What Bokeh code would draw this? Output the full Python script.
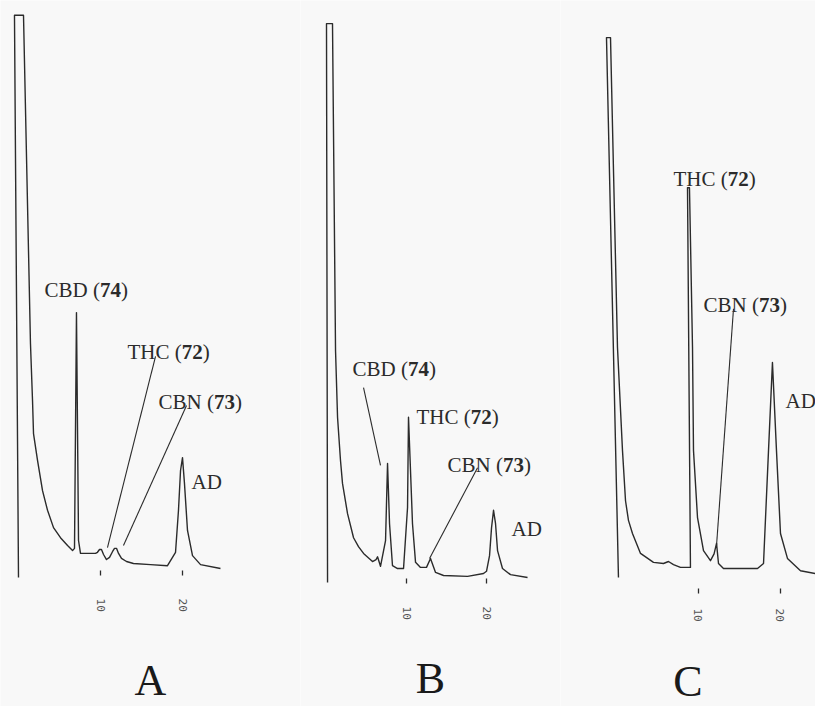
from bokeh.plotting import figure
from bokeh.layouts import row
from bokeh.models import Range1d, LinearAxis, FixedTicker, ColumnDataSource
from bokeh.core.properties import value
from bokeh.embed import file_html
from bokeh.resources import INLINE

# ---------------- data (retention time in min, detector response in arbitrary units) ----------------
tick_vals = [10, 20]
tick_labels = ["10", "20"]
panel_letters = ["A", "B", "C"]

# Panel A trace
a_time = [0.00, -0.49, 0.61, 1.46, 1.71, 1.83, 2.32, 2.93, 3.54, 4.27, 5.12, 5.98, 6.59, 6.83, 7.07,
          7.32, 7.56, 8.17, 9.39, 9.63, 9.88, 10.12, 10.37, 10.73, 11.10, 11.46, 11.71, 11.95,
          12.20, 12.56, 13.17, 14.02, 16.10, 18.17, 19.15, 19.51, 19.76, 20.00, 20.24, 20.61,
          21.22, 22.20, 24.63]
a_resp = [-1.6, 98.8, 98.8, 40.2, 30.0, 24.1, 19.3, 13.9, 10.4, 7.3, 5.5, 4.1, 3.2, 3.6, 45.7,
          5.0, 2.7, 2.7, 2.7, 2.9, 3.4, 3.4, 2.5, 1.6, 2.0, 3.0, 3.6, 3.6,
          2.7, 1.8, 1.25, 0.9, 0.7, 0.5, 2.9, 10.4, 17.5, 19.8, 15.2, 6.8,
          2.3, 0.7, 0.0]

# Panel B trace
b_time = [0.13, 0.00, 0.75, 1.13, 1.38, 1.75, 2.00, 2.63, 3.38, 4.00, 4.63, 5.75, 6.20, 6.38, 6.75,
          7.38, 7.63, 7.88, 8.25, 8.88, 9.63, 10.13, 10.25, 10.75, 11.13, 11.75, 12.50, 13.00,
          13.63, 14.63, 17.63, 19.63, 20.00, 20.38, 20.63, 20.88, 21.13, 21.38, 22.00, 23.00, 25.13]
b_resp = [-2.5, 97.3, 97.3, 38.9, 27.0, 19.3, 15.2, 9.8, 5.5, 3.9, 2.7, 1.25, 1.6, 2.1, 0.4,
          5.0, 18.75, 8.0, 0.5, 0.0, 0.0, 10.9, 27.0, 8.0, 1.1, 0.2, 0.2, 1.8,
          -0.7, -1.25, -1.4, -0.9, -0.5, 2.3, 7.3, 10.4, 8.0, 3.2, 0.0, -1.1, -1.6]

# Panel C trace
c_time = [0.24, -1.22, -0.73, 0.12, 0.73, 1.10, 1.46, 1.95, 2.93, 4.51, 5.73, 6.34, 6.95, 7.80, 9.02,
          8.66, 8.90, 9.27, 9.39, 9.88, 10.61, 11.46, 11.90, 12.20, 12.44, 13.05, 17.20, 17.93,
          18.54, 19.02, 19.51, 20.00, 20.85, 22.44, 24.27]
c_resp = [-1.6, 94.8, 94.8, 39.5, 21.1, 12.1, 8.6, 6.25, 2.7, 1.1, 0.9, 1.25, 0.7, 0.2, 0.2,
          68.0, 68.0, 39.5, 21.1, 9.1, 3.2, 1.4, 2.6, 4.5, 0.9, 0.0, 0.0, 0.9,
          21.1, 36.8, 21.1, 6.25, 1.8, -0.4, -0.9]

# Peak labels: name, compound number (bold), text position (time, response)
a_lab_name = ["CBD (", "THC (", "CBN ("]
a_lab_num = ["74", "72", "73"]
a_lab_t = [3.17, 13.29, 17.07]
a_lab_v = [49.8, 38.6, 29.8]
a_ad = (21.10, 15.5)
a_lead_t0 = [16.71, 20.49]
a_lead_v0 = [37.9, 29.1]
a_lead_t1 = [10.85, 12.80]
a_lead_v1 = [3.75, 4.1]

b_lab_name = ["CBD (", "THC (", "CBN ("]
b_lab_num = ["74", "72", "73"]
b_lab_t = [3.25, 11.25, 15.13]
b_lab_v = [35.7, 27.0, 18.4]
b_ad = (23.13, 7.0)
b_lead_t0 = [4.63, 18.88]
b_lead_v0 = [32.3, 18.0]
b_lead_t1 = [6.75, 12.88]
b_lead_v1 = [18.4, 1.8]

c_lab_name = ["THC (", "CBN ("]
c_lab_num = ["72", "73"]
c_lab_t = [6.95, 10.61]
c_lab_v = [69.5, 47.0]
c_ad = (20.61, 30.0)
c_lead_t0 = [14.27]
c_lead_v0 = [46.4]
c_lead_t1 = [12.20]
c_lead_v1 = [4.1]

# ---------------- styling ----------------
BG = "#f8f8f8"
INK = "#2b2b2b"
SERIF = "Liberation Serif"
FS = 21  # px
# Times advance widths (em)
ADV = {"C": 0.667, "B": 0.667, "D": 0.722, "T": 0.611, "H": 0.722, "N": 0.722,
       " ": 0.25, "(": 0.333, ")": 0.333, "7": 0.5, "2": 0.5, "3": 0.5, "4": 0.5}


def w(s):
    return sum(ADV[ch] for ch in s) * FS


def panel(width, xr, yr, trace_t, trace_v, names, nums, lt, lv, ad, l0t, l0v, l1t, l1v,
          axis_loc, tick_standoff, letter, letter_standoff):
    p = figure(width=width, height=706, x_range=Range1d(*xr), y_range=Range1d(*yr),
               x_axis_type=None, y_axis_type=None, toolbar_location=None,
               output_backend="svg", min_border=0, outline_line_color=None,
               background_fill_color=BG, border_fill_color=BG)
    p.grid.visible = False
    p.line(trace_t, trace_v, line_color=INK, line_width=1.4, line_join="round")
    p.segment(x0=l0t, y0=l0v, x1=l1t, y1=l1v, line_color=INK, line_width=1.1)

    src = ColumnDataSource(dict(x=lt, y=lv, name=names, num=nums, close=[")"] * len(names),
                                off1=[w(n) for n in names],
                                off2=[w(n) + w(m) for n, m in zip(names, nums)]))
    common = dict(x="x", y="y", text_font=value(SERIF), text_font_size=f"{FS}px",
                  text_color=INK, text_baseline="alphabetic", text_align="left", source=src)
    p.text(text="name", **common)
    p.text(text="num", x_offset="off1", text_font_style="bold", **common)
    p.text(text="close", x_offset="off2", **common)
    p.text(x=[ad[0]], y=[ad[1]], text=["AD"], text_font=value(SERIF), text_font_size=f"{FS}px",
           text_color=INK, text_baseline="alphabetic", text_align="left")

    ax = LinearAxis(ticker=FixedTicker(ticks=tick_vals),
                    major_label_overrides={t: s for t, s in zip(tick_vals, tick_labels)},
                    fixed_location=axis_loc, axis_line_color=None,
                    major_tick_in=0, major_tick_out=5, major_tick_line_color=INK,
                    major_tick_line_width=1.3, minor_tick_line_color=None,
                    major_label_orientation="vertical", major_label_standoff=tick_standoff,
                    major_label_text_font="DejaVu Sans Mono", major_label_text_font_size="11px",
                    major_label_text_color="#555555",
                    axis_label=letter, axis_label_standoff=letter_standoff,
                    axis_label_text_font=SERIF, axis_label_text_font_size="44px",
                    axis_label_text_font_style="normal", axis_label_text_color="#1a1a1a")
    p.add_layout(ax, "below")
    return p


yr = (-24.64, 101.43)
pa = panel(300, (-2.195, 34.39), yr, a_time, a_resp, a_lab_name, a_lab_num, a_lab_t, a_lab_v, a_ad,
           a_lead_t0, a_lead_v0, a_lead_t1, a_lead_v1, -0.36, 23, panel_letters[0], 41)
pb = panel(260, (-3.25, 29.25), yr, b_time, b_resp, b_lab_name, b_lab_num, b_lab_t, b_lab_v, b_ad,
           b_lead_t0, b_lead_v0, b_lead_t1, b_lead_v1, -1.79, 23, panel_letters[1], 31)
pc = panel(255, (-6.829, 24.27), yr, c_time, c_resp, c_lab_name, c_lab_num, c_lab_t, c_lab_v, c_ad,
           c_lead_t0, c_lead_v0, c_lead_t1, c_lead_v1, -3.57, 15, panel_letters[2], 32)

layout = row(pa, pb, pc)
open("out.html", "w").write(file_html(layout, INLINE))
